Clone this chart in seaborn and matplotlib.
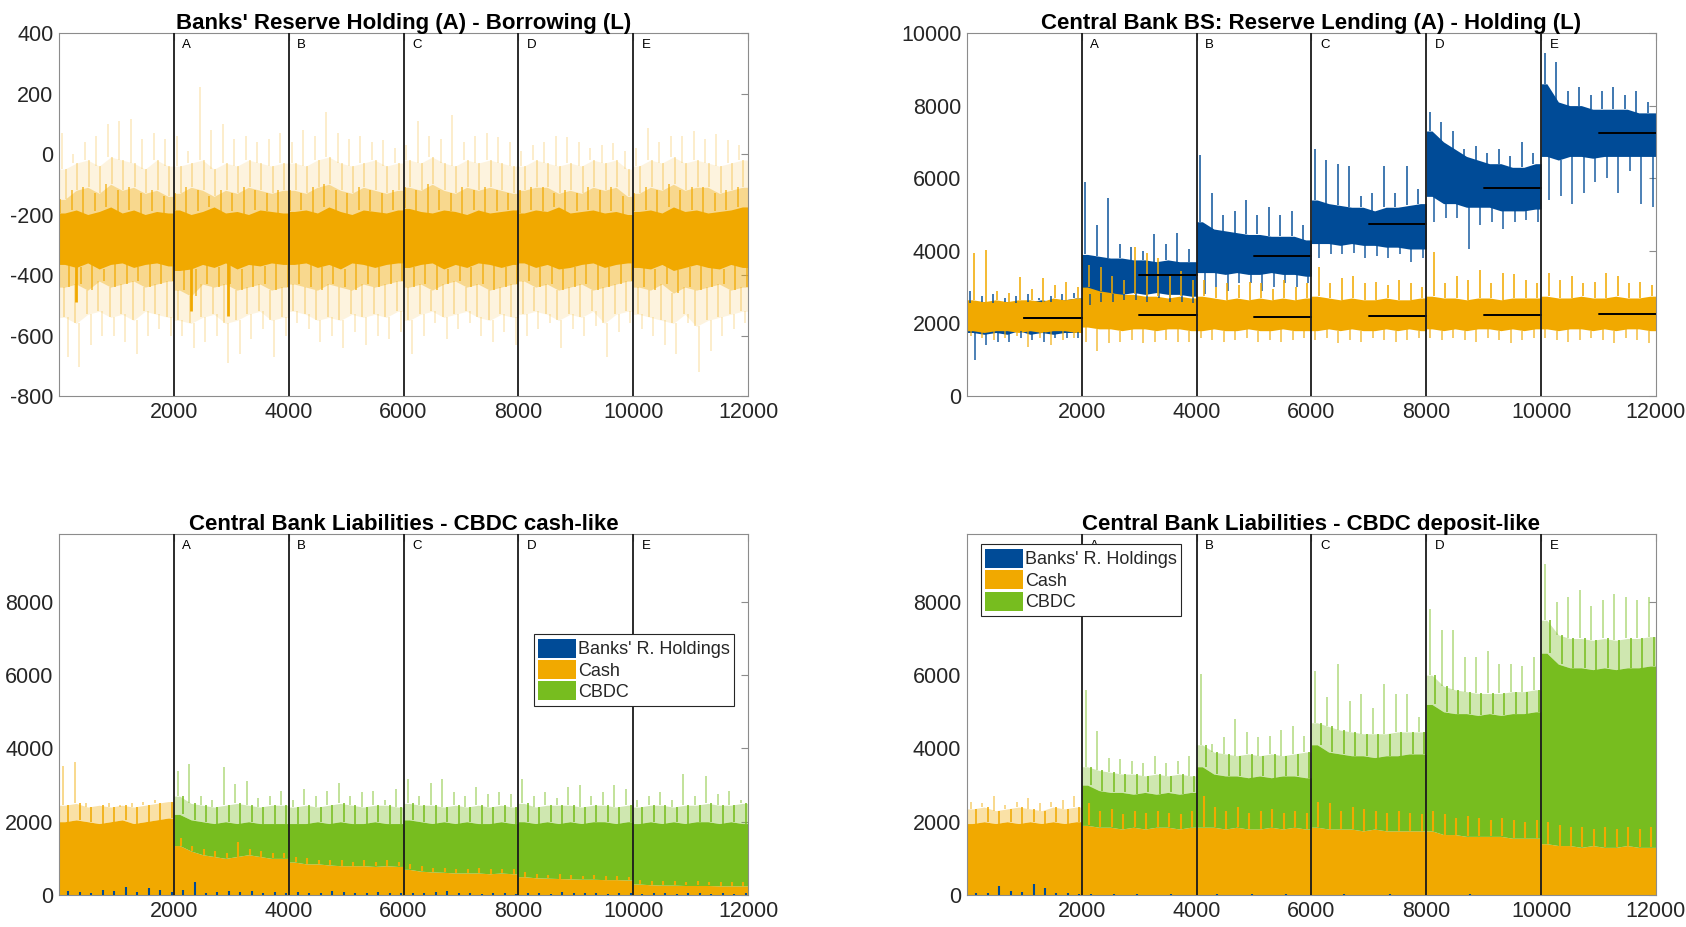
import numpy as np
import pandas as pd
import matplotlib
matplotlib.use('Agg')
import matplotlib.pyplot as plt
from matplotlib.patches import Patch
import seaborn as sns

sns.set_theme(style='white')
plt.rcParams['font.family'] = ['Liberation Sans', 'DejaVu Sans']
plt.rcParams['axes.unicode_minus'] = False

# ---------------- data (200-step bins, 60 bins) ----------------
BIN = 200
phase_starts = [2000, 4000, 6000, 8000, 10000]
phase_labels = ['A', 'B', 'C', 'D', 'E']
segment_edges = [0, 2000, 4000, 6000, 8000, 10000, 12000]

# Top-left: banks' reserve holding - borrowing
tl_outer_hi = [70, 0, 40, 60, 100, 110, 115, 50, 70, 50,
               60, 10, 222, 80, 100, 50, 60, 40, 50, 70,
               40, 80, 60, 140, 70, 50, 60, 40, 45, 20,
               30, 110, 60, 50, 130, 40, 60, 70, 55, 40,
               10, 30, 40, 60, 55, 40, 20, 30, 35, 10,
               20, 85, 40, 60, 60, 75, 50, 65, 45, 30]
tl_light_hi = [-50, -30, -20, -40, -10, -20, -30, -50, -20, -40,
               -40, -30, -20, -50, -30, -40, -20, -30, -40, -30,
               -30, -40, -20, -10, -30, -40, -30, -20, -40, -30,
               -20, -30, -10, -30, -40, -20, -30, -20, -30, -40,
               -40, -20, -30, -40, -30, -40, -20, -30, -20, -50,
               -40, -20, -30, -10, -30, -20, -30, -40, -30, -20]
tl_mid_hi = [-150, -120, -110, -130, -100, -120, -110, -130, -120, -140,
             -130, -110, -120, -140, -120, -130, -110, -120, -130, -120,
             -120, -130, -110, -100, -120, -130, -110, -120, -130, -120,
             -110, -120, -100, -120, -130, -110, -120, -110, -120, -130,
             -120, -110, -110, -130, -120, -130, -110, -120, -110, -140,
             -130, -110, -120, -100, -120, -110, -110, -130, -120, -110]
tl_core_hi = [-195, -185, -200, -190, -175, -195, -185, -200, -190, -195,
              -185, -200, -190, -175, -195, -190, -200, -185, -190, -195,
              -190, -185, -195, -175, -190, -200, -185, -190, -195, -185,
              -180, -190, -195, -185, -190, -200, -185, -195, -190, -185,
              -195, -185, -190, -175, -195, -190, -185, -195, -190, -200,
              -190, -185, -195, -175, -190, -185, -195, -190, -185, -175]
tl_core_lo = [-365, -375, -360, -380, -365, -360, -375, -365, -360, -370,
              -385, -380, -365, -375, -360, -380, -365, -370, -360, -365,
              -365, -360, -375, -365, -380, -360, -365, -375, -365, -360,
              -375, -365, -360, -380, -365, -375, -360, -365, -375, -365,
              -360, -375, -365, -380, -375, -365, -360, -375, -365, -360,
              -375, -380, -365, -385, -375, -365, -375, -380, -365, -375]
tl_mid_lo = [-440, -430, -450, -420, -440, -430, -420, -440, -430, -420,
             -450, -470, -430, -440, -430, -450, -440, -430, -450, -440,
             -430, -440, -450, -430, -440, -450, -430, -440, -430, -420,
             -440, -430, -450, -430, -420, -440, -430, -450, -440, -430,
             -420, -440, -430, -450, -440, -430, -450, -440, -430, -420,
             -440, -450, -430, -460, -440, -450, -440, -430, -450, -440]
tl_light_lo = [-540, -560, -530, -520, -540, -530, -550, -520, -530, -540,
               -550, -560, -540, -530, -560, -550, -530, -520, -550, -540,
               -520, -530, -550, -540, -550, -530, -540, -530, -540, -520,
               -550, -530, -520, -540, -530, -520, -540, -550, -530, -540,
               -530, -520, -530, -550, -530, -540, -520, -560, -530, -520,
               -530, -540, -550, -560, -530, -570, -550, -540, -530, -520]
tl_outer_lo = [-670, -705, -630, -600, -600, -620, -660, -600, -580, -600,
               -600, -640, -620, -600, -690, -660, -610, -580, -670, -600,
               -560, -580, -620, -600, -640, -590, -630, -600, -610, -590,
               -660, -600, -560, -610, -580, -560, -600, -620, -590, -630,
               -600, -580, -560, -640, -580, -600, -570, -670, -590, -560,
               -580, -600, -630, -660, -560, -720, -650, -600, -580, -560]
tl_dark_x = [300, 2300, 2950]
tl_dark_y = [-490, -520, -535]

# Top-right: central bank reserve lending (blue) and holding (orange)
tr_bl_outer_hi = [2900, 2750, 2800, 2700, 2750, 2800, 2700, 2750, 2800, 2850,
                  5900, 4700, 5450, 4200, 4100, 4000, 4450, 4200, 4500, 4050,
                  6650, 5600, 5000, 5100, 5400, 5000, 5200, 5000, 5100, 4700,
                  6800, 6500, 6400, 6350, 5500, 5600, 6350, 5600, 6350, 5700,
                  7830, 7560, 7300, 6800, 6900, 6700, 6800, 6600, 7000, 6700,
                  9450, 9200, 8400, 8500, 8300, 8400, 8500, 8300, 8400, 8100]
tr_bl_inner_hi = [2550, 2600, 2550, 2600, 2550, 2600, 2650, 2600, 2650, 2700,
                  3900, 3850, 3800, 3800, 3750, 3750, 3700, 3750, 3700, 3700,
                  4800, 4600, 4550, 4500, 4450, 4450, 4400, 4400, 4400, 4300,
                  5400, 5300, 5250, 5200, 5200, 5100, 5200, 5200, 5250, 5300,
                  7300, 7000, 6800, 6600, 6500, 6400, 6400, 6300, 6300, 6400,
                  8600, 8100, 8000, 8000, 7900, 7900, 7900, 7900, 7800, 7800]
tr_bl_inner_lo = [1750, 1700, 1750, 1700, 1800, 1700, 1750, 1700, 1750, 1750,
                  2800, 2850, 2800, 2800, 2850, 2800, 2850, 2800, 2800, 2750,
                  3400, 3400, 3350, 3400, 3350, 3350, 3400, 3350, 3350, 3300,
                  4200, 4200, 4150, 4200, 4150, 4150, 4100, 4100, 4050, 4050,
                  5500, 5300, 5300, 5200, 5200, 5200, 5100, 5100, 5100, 5150,
                  6600, 6500, 6600, 6600, 6550, 6600, 6600, 6600, 6600, 6600]
tr_bl_outer_lo = [1000, 1400, 1500, 1500, 1600, 1550, 1500, 1600, 1600, 1600,
                  2500, 2600, 2600, 2650, 2650, 2600, 2700, 2600, 2600, 2550,
                  2800, 3000, 2900, 3100, 3100, 2900, 3000, 3100, 3000, 3100,
                  3800, 3900, 3900, 3950, 3800, 3850, 3800, 3900, 3700, 3800,
                  4800, 4900, 4900, 4050, 4700, 4800, 4600, 4800, 4850, 4800,
                  5400, 5500, 5300, 5600, 5900, 6000, 5600, 6200, 5300, 5200]
tr_or_outer_hi = [3930, 4020, 2900, 2850, 3290, 2950, 3240, 3050, 3150, 3000,
                  3600, 3550, 3300, 3200, 4110, 3950, 3800, 3300, 3450, 3200,
                  3200, 3000, 3100, 3050, 3150, 3100, 2950, 3200, 3000, 3100,
                  3560, 3100, 3250, 3300, 3100, 3150, 3050, 3200, 3100, 3000,
                  3980, 3100, 3300, 3200, 3470, 3100, 3400, 3350, 3200, 3100,
                  3380, 3200, 3300, 3100, 3150, 3380, 3300, 3100, 3150, 3050]
tr_or_inner_hi = [2650, 2600, 2650, 2600, 2650, 2650, 2600, 2700, 2650, 2700,
                  3000, 2900, 2850, 2800, 2800, 2750, 2750, 2700, 2750, 2700,
                  2750, 2700, 2650, 2700, 2650, 2700, 2650, 2700, 2650, 2700,
                  2750, 2700, 2650, 2700, 2650, 2650, 2700, 2650, 2650, 2700,
                  2750, 2700, 2700, 2650, 2700, 2700, 2650, 2700, 2700, 2700,
                  2750, 2700, 2700, 2750, 2700, 2700, 2750, 2700, 2700, 2750]
tr_or_inner_lo = [1800, 1750, 1800, 1800, 1750, 1800, 1750, 1800, 1800, 1750,
                  1900, 1850, 1850, 1800, 1850, 1850, 1800, 1850, 1850, 1800,
                  1800, 1850, 1800, 1800, 1850, 1800, 1800, 1850, 1800, 1800,
                  1800, 1850, 1800, 1850, 1800, 1800, 1850, 1800, 1850, 1800,
                  1850, 1800, 1850, 1800, 1850, 1850, 1800, 1850, 1800, 1850,
                  1850, 1800, 1850, 1850, 1800, 1850, 1800, 1850, 1850, 1800]
tr_or_outer_lo = [1650, 1600, 1550, 1600, 1650, 1350, 1600, 1400, 1550, 1600,
                  1500, 1250, 1450, 1500, 1550, 1450, 1500, 1550, 1500, 1500,
                  1600, 1550, 1500, 1550, 1600, 1500, 1550, 1500, 1550, 1600,
                  1550, 1600, 1450, 1550, 1500, 1600, 1550, 1500, 1550, 1600,
                  1600, 1550, 1600, 1550, 1500, 1600, 1550, 1450, 1550, 1600,
                  1600, 1550, 1500, 1550, 1600, 1550, 1450, 1600, 1550, 1450]
tr_mean_lending = [2150, 3330, 3870, 4750, 5740, 7255]
tr_mean_holding = [2150, 2245, 2180, 2195, 2235, 2260]

# Bottom-left: CBDC cash-like (stacked: reserves, cash, CBDC)
bl_reserves = [120, 80, 60, 150, 100, 220, 90, 200, 130, 70,
               140, 360, 60, 90, 120, 80, 100, 60, 80, 50,
               70, 60, 50, 110, 80, 60, 60, 90, 50, 60,
               60, 50, 70, 120, 50, 60, 40, 50, 60, 40,
               50, 60, 40, 70, 50, 60, 50, 40, 60, 50,
               40, 60, 50, 40, 50, 60, 40, 50, 40, 50]
bl_cash = [2000, 2050, 2000, 1950, 2000, 2050, 1950, 2000, 2050, 2100,
           1350, 1200, 1100, 1050, 1000, 1050, 1100, 1050, 1000, 1000,
           900, 850, 850, 820, 800, 800, 800, 780, 800, 780,
           700, 650, 630, 620, 600, 600, 600, 580, 600, 580,
           500, 470, 460, 450, 440, 430, 430, 420, 420, 410,
           300, 280, 270, 270, 260, 260, 260, 250, 250, 250]
bl_cash_peak = [2000, 2050, 2000, 1950, 2000, 2050, 1950, 2000, 2050, 2100,
                1550, 1350, 1250, 1200, 1150, 1450, 1250, 1200, 1150, 1150,
                1050, 1000, 950, 950, 950, 900, 950, 900, 950, 900,
                850, 780, 750, 750, 720, 720, 740, 700, 720, 700,
                620, 560, 550, 560, 540, 520, 540, 520, 530, 500,
                420, 380, 370, 380, 360, 370, 360, 350, 360, 350]
bl_top = [2000, 2050, 2000, 1950, 2000, 2050, 1950, 2000, 2050, 2100,
          2200, 2050, 2000, 1950, 2000, 1950, 2000, 1950, 1950, 1950,
          1950, 1950, 2000, 1950, 2000, 1950, 1950, 2000, 1950, 1950,
          2050, 2000, 1950, 2000, 1950, 2000, 1950, 1950, 2000, 1950,
          2000, 1950, 2000, 1950, 2000, 1950, 2000, 2000, 1950, 2000,
          1950, 2000, 1950, 2000, 1950, 2000, 2000, 1950, 2000, 1950]
bl_mid = [2450, 2500, 2400, 2450, 2400, 2450, 2400, 2450, 2500, 2550,
          2700, 2500, 2450, 2400, 2450, 2500, 2450, 2400, 2450, 2450,
          2400, 2450, 2400, 2450, 2500, 2450, 2400, 2450, 2450, 2400,
          2500, 2450, 2450, 2400, 2450, 2400, 2450, 2400, 2450, 2400,
          2500, 2400, 2450, 2450, 2450, 2400, 2450, 2450, 2400, 2450,
          2400, 2450, 2450, 2400, 2450, 2450, 2500, 2450, 2450, 2500]
bl_spike = [3520, 3620, 2500, 2450, 2500, 2400, 2500, 2550, 2600, 2550,
            3390, 3570, 2700, 2600, 3480, 3020, 3100, 2650, 2700, 2850,
            2600, 2900, 2700, 2850, 3070, 2700, 2800, 2850, 2600, 2900,
            3160, 2700, 3050, 3160, 2800, 2700, 2950, 2750, 2800, 2750,
            3160, 2700, 2800, 2650, 2950, 3000, 2700, 2800, 3000, 2900,
            2600, 2700, 2800, 2600, 3300, 2700, 3250, 2750, 2850, 2600]

# Bottom-right: CBDC deposit-like
br_reserves = [50, 60, 250, 100, 80, 290, 200, 60, 50, 40,
               20, 10, 15, 10, 20, 10, 10, 15, 10, 10,
               10, 15, 10, 10, 20, 10, 10, 15, 10, 10,
               10, 10, 15, 10, 10, 10, 15, 10, 10, 10,
               10, 10, 10, 15, 10, 10, 10, 10, 10, 10,
               10, 10, 10, 10, 10, 10, 10, 10, 10, 10]
br_cash = [1950, 2000, 1950, 2000, 1950, 2000, 1950, 2000, 1950, 2000,
           1900, 1850, 1850, 1800, 1850, 1800, 1850, 1850, 1800, 1850,
           1850, 1850, 1800, 1850, 1800, 1800, 1850, 1800, 1850, 1800,
           1850, 1800, 1800, 1800, 1750, 1800, 1750, 1750, 1750, 1750,
           1750, 1650, 1650, 1600, 1600, 1600, 1600, 1550, 1550, 1550,
           1400, 1350, 1350, 1300, 1350, 1300, 1300, 1350, 1300, 1300]
br_cash_peak = [1950, 2000, 1950, 2000, 1950, 2000, 1950, 2000, 1950, 2000,
                2500, 2300, 2350, 2200, 2300, 2250, 2300, 2250, 2200, 2300,
                2700, 2400, 2300, 2400, 2250, 2300, 2350, 2250, 2300, 2250,
                2550, 2500, 2300, 2400, 2350, 2300, 2250, 2300, 2250, 2200,
                2300, 2200, 2100, 2150, 2100, 2050, 2100, 2050, 2000, 2050,
                2000, 1900, 1850, 1850, 1800, 1850, 1800, 1850, 1800, 1850]
br_top = [1950, 2000, 1950, 2000, 1950, 2000, 1950, 2000, 1950, 2000,
          3000, 2850, 2800, 2800, 2750, 2800, 2750, 2800, 2750, 2800,
          3500, 3300, 3250, 3250, 3200, 3250, 3200, 3250, 3250, 3200,
          4100, 3900, 3850, 3800, 3800, 3750, 3800, 3800, 3850, 3850,
          5200, 5000, 4950, 4950, 4900, 4950, 4900, 4950, 4950, 5000,
          6600, 6300, 6200, 6200, 6150, 6200, 6150, 6200, 6200, 6250]
br_mid = [2350, 2400, 2300, 2350, 2400, 2350, 2300, 2400, 2350, 2400,
          3500, 3400, 3350, 3300, 3300, 3250, 3300, 3250, 3300, 3250,
          4100, 3900, 3850, 3800, 3850, 3800, 3850, 3800, 3850, 3900,
          4700, 4600, 4500, 4450, 4400, 4400, 4400, 4450, 4450, 4450,
          6000, 5700, 5600, 5550, 5500, 5500, 5500, 5550, 5550, 5600,
          7500, 7100, 7000, 7000, 6950, 7000, 6950, 7000, 7000, 7050]
br_spike = [2550, 2500, 2700, 2450, 2550, 2650, 2500, 2550, 2600, 2700,
            5590, 4480, 3750, 3700, 3650, 3600, 3800, 3600, 3650, 3800,
            6030, 4120, 4300, 4800, 4440, 4300, 4350, 4500, 4620, 4350,
            6120, 5400, 6300, 5300, 5480, 5100, 5760, 5480, 5480, 4850,
            7810, 7220, 7220, 6490, 6490, 6650, 6300, 6300, 6250, 6490,
            9040, 8000, 8130, 8310, 7900, 8040, 8220, 8130, 8040, 8130]

legend_labels = ["Banks' R. Holdings", 'Cash', 'CBDC']
titles = ["Banks' Reserve Holding (A) - Borrowing (L)",
          'Central Bank BS: Reserve Lending (A) - Holding (L)',
          'Central Bank Liabilities - CBDC cash-like',
          'Central Bank Liabilities - CBDC deposit-like']

# ---------------- styling ----------------
BLUE = '#004B97'
ORANGE = '#F1A900'
GREEN = '#77BD1F'
SPINE = '#8C8C8C'
TXT = '#262626'

edges = np.arange(0, 12001, BIN)
centers = edges[:-1] + BIN / 2
NSEG = 6
PER = 10


def seg_fill(ax, lo, hi, color, **kw):
    """Fill between two per-bin envelopes, joined linearly inside each phase."""
    lo = np.asarray(lo, float)
    hi = np.asarray(hi, float)
    for k in range(NSEG):
        sl = slice(k * PER, (k + 1) * PER)
        x = np.r_[segment_edges[k], centers[sl], segment_edges[k + 1]]
        l = np.r_[lo[sl][0], lo[sl], lo[sl][-1]]
        h = np.r_[hi[sl][0], hi[sl], hi[sl][-1]]
        ax.fill_between(x, l, h, color=color, lw=0, **kw)


def spikes(ax, base, tip, color, offset=0, lw=1.2, **kw):
    ax.vlines(centers + offset, np.asarray(base, float), np.asarray(tip, float),
              color=color, lw=lw, **kw)


def decorate(ax, ylim, yticks, title):
    ax.set_xlim(0, 12000)
    ax.set_ylim(*ylim)
    ax.set_xticks([2000, 4000, 6000, 8000, 10000, 12000])
    ax.set_yticks(yticks)
    ax.tick_params(direction='in', length=5, width=0.8, color=SPINE,
                   labelsize=15.5, labelcolor=TXT, right=True, top=True,
                   pad=4)
    for s in ax.spines.values():
        s.set_color(SPINE)
        s.set_linewidth(0.8)
    ax.set_title(title, fontsize=16, fontweight='bold', color='black', pad=3)
    for xs, lab in zip(phase_starts, phase_labels):
        ax.axvline(xs, color='#1a1a1a', lw=1.3, zorder=5)
        ax.text(xs + 150, 0.967, lab, transform=ax.get_xaxis_transform(),
                fontsize=9.5, va='center', ha='left', color='black', zorder=6)
    ax.grid(False)
    ax.set_xlabel('')
    ax.set_ylabel('')


fig = plt.figure(figsize=(16.86, 9.27), dpi=100)
ax_tl = fig.add_axes([0.035, 0.5728, 0.4087, 0.3916])
ax_tr = fig.add_axes([0.5735, 0.5728, 0.4087, 0.3916])
ax_bl = fig.add_axes([0.035, 0.0345, 0.4087, 0.3894])
ax_br = fig.add_axes([0.5735, 0.0345, 0.4087, 0.3894])

# ---- top left ----
ax = ax_tl
spikes(ax, tl_light_hi, tl_outer_hi, ORANGE, offset=-50, lw=1.3, alpha=0.22)
spikes(ax, tl_outer_lo, tl_light_lo, ORANGE, offset=50, lw=1.3, alpha=0.22)
seg_fill(ax, tl_light_lo, tl_light_hi, ORANGE, alpha=0.13)
spikes(ax, tl_mid_hi, tl_light_hi, ORANGE, offset=20, lw=1.3, alpha=0.3)
spikes(ax, tl_light_lo, tl_mid_lo, ORANGE, offset=-20, lw=1.3, alpha=0.3)
seg_fill(ax, tl_mid_lo, tl_mid_hi, ORANGE, alpha=0.36)
spikes(ax, tl_core_hi, tl_mid_hi, ORANGE, offset=-80, lw=1.3, alpha=0.7)
spikes(ax, tl_mid_lo, tl_core_lo, ORANGE, offset=80, lw=1.3, alpha=0.7)
seg_fill(ax, tl_core_lo, tl_core_hi, ORANGE)
ax.vlines(tl_dark_x, -360, tl_dark_y, color=ORANGE, lw=2)
decorate(ax, (-800, 400), np.arange(-800, 401, 200), titles[0])

# ---- top right ----
ax = ax_tr
spikes(ax, tr_bl_inner_hi, tr_bl_outer_hi, BLUE, offset=-40, lw=1.4, alpha=0.75)
spikes(ax, tr_bl_outer_lo, tr_bl_inner_lo, BLUE, offset=40, lw=1.4, alpha=0.7)
seg_fill(ax, tr_bl_inner_lo, tr_bl_inner_hi, BLUE)
spikes(ax, tr_or_inner_hi, tr_or_outer_hi, ORANGE, offset=30, lw=1.4, alpha=0.8)
spikes(ax, tr_or_outer_lo, tr_or_inner_lo, ORANGE, offset=-30, lw=1.4, alpha=0.6)
seg_fill(ax, tr_or_inner_lo, tr_or_inner_hi, ORANGE)
seg_start = np.array(segment_edges[:-1])
seg_end = np.array(segment_edges[1:])
for means in (tr_mean_lending, tr_mean_holding):
    for s, e, m in zip(seg_start, seg_end, means):
        df = pd.DataFrame({'x': [s + 1000, e], 'y': [m, m]})
        sns.lineplot(data=df, x='x', y='y', ax=ax, color='black', lw=1.4,
                     zorder=4)
decorate(ax, (0, 10000), np.arange(0, 10001, 2000), titles[1])


# ---- bottom panels ----
def stacked(ax, res, cash, cash_peak, top, mid, spike):
    seg_fill(ax, np.zeros(60), cash, ORANGE)
    seg_fill(ax, cash, top, GREEN)
    spikes(ax, cash, cash_peak, ORANGE, offset=20, lw=1.5)
    mid = np.asarray(mid, float)
    top = np.asarray(top, float)
    spike = np.asarray(spike, float)
    top_orange = np.arange(60) < PER
    for mask, col in ((top_orange, ORANGE), (~top_orange, GREEN)):
        t = np.where(mask, top, np.nan)
        m = np.where(mask, mid, np.nan)
        s = np.where(mask, spike, np.nan)
        seg_fill(ax, t, m, col, alpha=0.35)
        spikes(ax, t, m, col, offset=60, lw=1.4, alpha=0.8)
        spikes(ax, m, s, col, offset=-30, lw=1.4, alpha=0.45)
    spikes(ax, np.zeros(60), res, BLUE, offset=60, lw=1.5, zorder=3)


stacked(ax_bl, bl_reserves, bl_cash, bl_cash_peak, bl_top, bl_mid, bl_spike)
decorate(ax_bl, (0, 9850), np.arange(0, 8001, 2000), titles[2])
stacked(ax_br, br_reserves, br_cash, br_cash_peak, br_top, br_mid, br_spike)
decorate(ax_br, (0, 9850), np.arange(0, 8001, 2000), titles[3])

handles = [Patch(facecolor=BLUE, edgecolor='none'),
           Patch(facecolor=ORANGE, edgecolor='none'),
           Patch(facecolor=GREEN, edgecolor='none')]
for ax, anchor in ((ax_bl, (0.689, 0.723)), (ax_br, (0.02, 0.972))):
    leg = ax.legend(handles, legend_labels, loc='upper left',
                    bbox_to_anchor=anchor, fontsize=13, frameon=True,
                    fancybox=False, framealpha=1, edgecolor='#262626',
                    handlelength=2.1, handleheight=1.25, handletextpad=0.1,
                    labelspacing=0.1, borderpad=0.25, borderaxespad=0)
    leg.get_frame().set_linewidth(0.8)
    leg.set_zorder(10)

fig.savefig('out.png', dpi=100, facecolor='white')
